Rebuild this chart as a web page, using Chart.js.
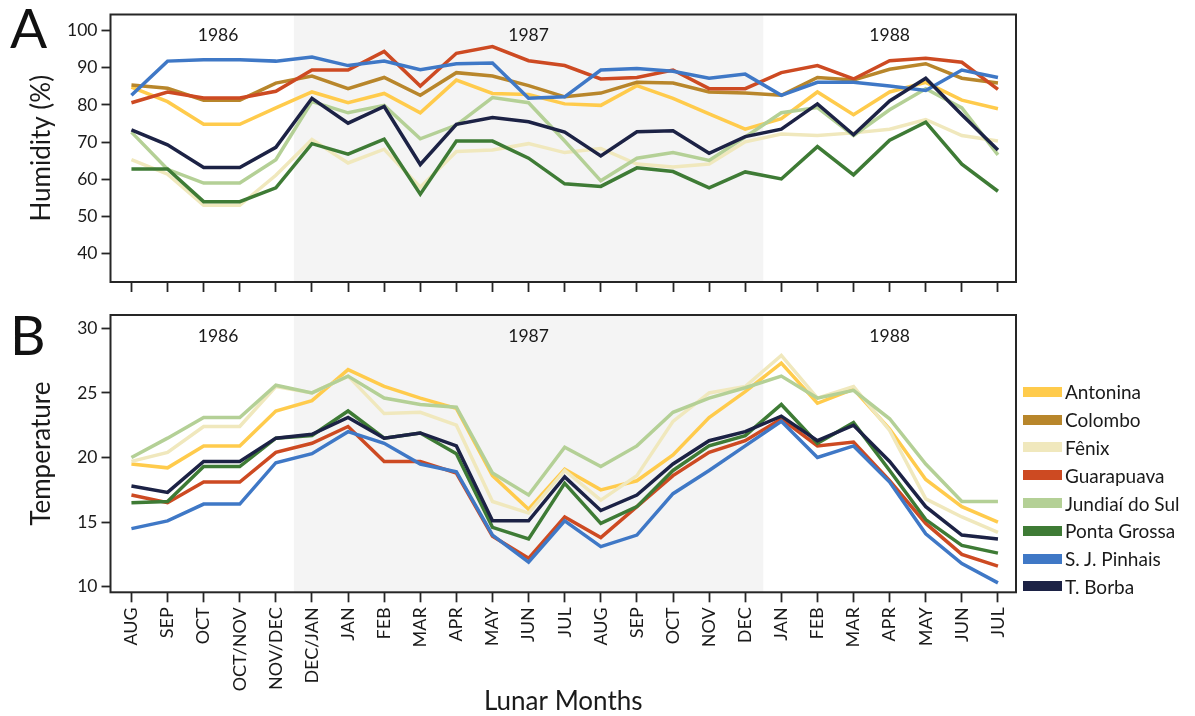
<!DOCTYPE html>
<html lang="pt">
<head>
<meta charset="utf-8">
<title>Humidity and temperature by lunar month, 1986–1988</title>
<script src="https://cdn.jsdelivr.net/npm/chart.js@4.4.1/dist/chart.umd.min.js"></script>
<style>
  html, body { margin: 0; padding: 0; background: #fff; }
  body { position: relative; width: 1195px; height: 716px; overflow: hidden;
         font-family: Lato, "Open Sans", sans-serif; color: #1a1a1a; }
  .panel { position: absolute; left: 0; width: 1195px; }
  #panelA { top: 0; height: 300px; }
  #panelB { top: 300px; height: 416px; }
  #legend { position: absolute; left: 1023px; top: 378px; }
  #legend .item { display: flex; align-items: center; height: 27.8px; font-size: 19px;
                  line-height: 1; white-space: nowrap; }
  #legend .swatch { width: 39px; height: 10px; margin-right: 3px; flex: none; }
</style>
</head>
<body>
<div class="panel" id="panelA"><canvas id="humidity" width="1195" height="300"></canvas></div>
<div class="panel" id="panelB"><canvas id="temperature" width="1195" height="416"></canvas></div>
<div id="legend"></div>

<script>
// Lunar months, Aug 1986 – Jul 1988
const months = ['AUG','SEP','OCT','OCT/NOV','NOV/DEC','DEC/JAN','JAN','FEB','MAR','APR','MAY','JUN',
                'JUL','AUG','SEP','OCT','NOV','DEC','JAN','FEB','MAR','APR','MAY','JUN','JUL'];
const stations = ['Antonina','Colombo','Fênix','Guarapuava','Jundiaí do Sul','Ponta Grossa','S. J. Pinhais','T. Borba'];
const years = ['1986','1987','1988'];
const humidityTicks = [40, 50, 60, 70, 80, 90, 100];
const temperatureTicks = [10, 15, 20, 25, 30];

// Relative humidity (%)
const humAntonina     = [84.8, 80.9, 74.8, 74.8, 79.2, 83.5, 80.6, 83.1, 77.9, 86.7, 83.1, 82.8, 80.3, 79.9, 85.2, 81.8, 77.6, 73.5, 76.3, 83.5, 77.4, 83.5, 86.1, 81.3, 79.0];
const humColombo      = [85.4, 84.5, 81.3, 81.3, 85.9, 87.8, 84.4, 87.4, 82.6, 88.7, 87.8, 85.2, 82.2, 83.2, 86.1, 85.9, 83.5, 83.2, 82.6, 87.4, 86.7, 89.6, 91.1, 87.2, 85.9];
const humFenix        = [65.3, 61.4, 53.0, 53.0, 61.1, 70.7, 64.4, 68.1, 57.9, 67.5, 67.9, 69.6, 67.2, 68.3, 64.1, 63.3, 64.1, 70.1, 72.2, 71.8, 72.5, 73.5, 76.1, 71.8, 70.3];
const humGuarapuava   = [80.6, 83.5, 81.9, 81.9, 83.7, 89.4, 89.4, 94.4, 85.1, 93.9, 95.7, 91.9, 90.6, 87.0, 87.4, 89.4, 84.4, 84.4, 88.7, 90.6, 87.0, 91.9, 92.6, 91.5, 84.2];
const humJundiai      = [72.7, 62.7, 59.0, 59.0, 65.3, 80.9, 77.9, 79.9, 70.9, 74.6, 82.0, 80.6, 70.3, 59.6, 65.7, 67.2, 65.1, 71.4, 77.9, 79.3, 71.8, 78.7, 84.4, 79.2, 66.6];
const humPontaGrossa  = [62.8, 62.8, 54.0, 54.0, 57.7, 69.6, 66.8, 70.8, 56.0, 70.3, 70.3, 65.7, 58.8, 58.1, 63.1, 62.1, 57.7, 62.0, 60.1, 68.8, 61.2, 70.5, 75.4, 64.1, 56.8];
const humSJPinhais    = [82.6, 91.8, 92.2, 92.2, 91.8, 92.9, 90.6, 91.8, 89.5, 91.1, 91.3, 81.8, 82.2, 89.4, 89.8, 89.1, 87.2, 88.3, 82.6, 86.1, 86.1, 85.1, 83.9, 89.4, 87.4];
const humTBorba       = [73.3, 69.3, 63.2, 63.2, 68.6, 81.8, 75.1, 79.6, 64.0, 74.8, 76.6, 75.5, 72.7, 66.3, 72.8, 73.1, 67.0, 71.5, 73.5, 80.3, 72.0, 81.1, 87.2, 77.4, 67.9];

// Mean temperature (°C); no temperature record for Colombo
const tempAntonina    = [19.5, 19.2, 20.9, 20.9, 23.6, 24.4, 26.8, 25.5, 24.6, 23.8, 18.6, 16.0, 19.1, 17.5, 18.2, 20.2, 23.1, 25.1, 27.3, 24.2, 25.3, 22.2, 18.3, 16.2, 15.0];
const tempFenix       = [19.7, 20.4, 22.4, 22.4, 25.5, 25.0, 26.3, 23.4, 23.5, 22.5, 16.6, 15.7, 19.0, 16.7, 18.6, 22.8, 25.0, 25.5, 27.9, 24.6, 25.5, 22.1, 16.8, 15.4, 14.2];
const tempGuarapuava  = [17.1, 16.5, 18.1, 18.1, 20.4, 21.1, 22.4, 19.7, 19.7, 18.8, 13.9, 12.2, 15.4, 13.8, 16.2, 18.6, 20.4, 21.3, 23.0, 20.9, 21.2, 18.2, 14.9, 12.5, 11.6];
const tempJundiai     = [20.0, 21.5, 23.1, 23.1, 25.6, 25.0, 26.3, 24.6, 24.1, 23.9, 18.8, 17.1, 20.8, 19.3, 20.9, 23.5, 24.6, 25.4, 26.3, 24.6, 25.2, 23.0, 19.5, 16.6, 16.6];
const tempPontaGrossa = [16.5, 16.6, 19.3, 19.3, 21.5, 21.7, 23.6, 21.5, 21.9, 20.3, 14.6, 13.7, 18.0, 14.9, 16.2, 19.0, 20.9, 21.7, 24.1, 21.1, 22.7, 19.0, 15.2, 13.2, 12.6];
const tempSJPinhais   = [14.5, 15.1, 16.4, 16.4, 19.6, 20.3, 22.0, 21.1, 19.5, 18.9, 14.0, 11.9, 15.1, 13.1, 14.0, 17.2, 19.0, 20.9, 22.8, 20.0, 20.9, 18.1, 14.1, 11.8, 10.3];
const tempTBorba      = [17.8, 17.3, 19.7, 19.7, 21.5, 21.8, 23.1, 21.5, 21.9, 20.9, 15.1, 15.1, 18.5, 15.9, 17.1, 19.5, 21.3, 22.0, 23.2, 21.3, 22.5, 19.7, 16.2, 14.0, 13.7];

const humidityByStation = {
  'Antonina': humAntonina, 'Colombo': humColombo, 'Fênix': humFenix, 'Guarapuava': humGuarapuava,
  'Jundiaí do Sul': humJundiai, 'Ponta Grossa': humPontaGrossa, 'S. J. Pinhais': humSJPinhais, 'T. Borba': humTBorba
};
const temperatureByStation = {
  'Antonina': tempAntonina, 'Fênix': tempFenix, 'Guarapuava': tempGuarapuava,
  'Jundiaí do Sul': tempJundiai, 'Ponta Grossa': tempPontaGrossa, 'S. J. Pinhais': tempSJPinhais, 'T. Borba': tempTBorba
};

const stationColor = {
  'Antonina': '#ffcb4c', 'Colombo': '#b8862b', 'Fênix': '#f0e8bd', 'Guarapuava': '#cd4a22',
  'Jundiaí do Sul': '#b4d096', 'Ponta Grossa': '#3e7b35', 'S. J. Pinhais': '#3f78c6', 'T. Borba': '#1c2245'
};

const FONT = 'Lato, "Open Sans", sans-serif';
const INK = '#1a1a1a';
const FRAME = '#262626';

// Shaded 1987 band, year captions, panel frame and panel letter
const panelDecor = {
  id: 'panelDecor',
  beforeDraw(chart, _args, opts) {
    const { ctx, chartArea: a, scales: { x } } = chart;
    ctx.save();
    const x0 = x.getPixelForValue(opts.shadeFrom);
    const x1 = x.getPixelForValue(opts.shadeTo);
    ctx.fillStyle = '#f4f4f4';
    ctx.fillRect(x0, a.top, x1 - x0, a.bottom - a.top);
    ctx.fillStyle = INK;
    ctx.font = '17.5px ' + FONT;
    ctx.textAlign = 'center';
    ctx.textBaseline = 'middle';
    years.forEach((t, i) => ctx.fillText(t, x.getPixelForValue(opts.yearAt[i]), a.top + 21));
    ctx.restore();
  },
  afterDraw(chart, _args, opts) {
    const { ctx, chartArea: a } = chart;
    ctx.save();
    ctx.strokeStyle = FRAME;
    ctx.lineWidth = 2;
    ctx.strokeRect(a.left, a.top, a.right - a.left, a.bottom - a.top);
    ctx.fillStyle = '#111';
    ctx.font = '55px ' + FONT;
    ctx.textAlign = 'left';
    ctx.textBaseline = 'alphabetic';
    ctx.fillText(opts.letter, 10, opts.letterBaseline);
    ctx.restore();
  }
};

function lineDatasets(byStation) {
  return stations
    .map((name, i) => ({ name, i }))
    .filter(s => byStation[s.name])
    .map(s => ({
      label: s.name,
      data: byStation[s.name].map((v, k) => ({ x: k, y: v })),
      borderColor: stationColor[s.name],
      backgroundColor: stationColor[s.name],
      borderWidth: 3.5,
      pointRadius: 0,
      tension: 0,
      fill: false,
      order: stations.length - s.i
    }));
}

function xScale(showLabels, height) {
  return {
    type: 'linear', min: -0.58, max: 24.5, bounds: 'data',
    afterBuildTicks: s => { s.ticks = months.map((_, i) => ({ value: i })); },
    afterFit: s => { s.height = height; },
    grid: { drawOnChartArea: false, drawTicks: true, tickLength: 10, tickColor: FRAME, tickWidth: 1.8 },
    border: { display: false },
    ticks: {
      display: showLabels, autoSkip: false, maxRotation: 90, minRotation: 90, padding: 5,
      color: INK, font: { family: FONT, size: 18 },
      callback: v => months[v]
    },
    title: showLabels
      ? { display: true, text: 'Lunar Months', color: INK,
          font: { family: FONT, size: 26, lineHeight: 1 }, padding: { top: 0, bottom: 1 } }
      : { display: false }
  };
}

function yScale(min, max, ticks, title) {
  return {
    min, max,
    afterBuildTicks: s => { s.ticks = ticks.map(v => ({ value: v })); },
    afterFit: s => { s.width = 110.5; },
    grid: { drawOnChartArea: false, drawTicks: true, tickLength: 9, tickColor: FRAME, tickWidth: 1.8 },
    border: { display: false },
    ticks: { color: INK, font: { family: FONT, size: 17.5 }, padding: 4 },
    title: { display: true, text: title, color: INK,
             font: { family: FONT, size: 26, lineHeight: 1 }, padding: { top: 28.5, bottom: 0 } }
  };
}

function baseOptions(padTop, letter, letterBaseline) {
  return {
    responsive: false,
    animation: false,
    events: [],
    layout: { padding: { left: 0, right: 179, top: padTop, bottom: 0 } },
    plugins: {
      legend: { display: false },
      tooltip: { enabled: false },
      panelDecor: { shadeFrom: 4.5, shadeTo: 17.5, yearAt: [2.4, 11, 21], letter, letterBaseline }
    }
  };
}

function buildLegend() {
  const box = document.getElementById('legend');
  stations.forEach(name => {
    const item = document.createElement('div');
    item.className = 'item';
    const sw = document.createElement('span');
    sw.className = 'swatch';
    sw.style.background = stationColor[name];
    const txt = document.createElement('span');
    txt.textContent = name;
    item.appendChild(sw);
    item.appendChild(txt);
    box.appendChild(item);
  });
}

function draw() {
  const optsA = baseOptions(5, 'A', 48);
  optsA.scales = { x: xScale(false, 18), y: yScale(32.39, 104.34, humidityTicks, 'Humidity (%)') };
  new Chart(document.getElementById('humidity'), {
    type: 'line',
    data: { datasets: lineDatasets(humidityByStation) },
    options: optsA,
    plugins: [panelDecor]
  });

  const optsB = baseOptions(15, 'B', 55);
  optsB.scales = { x: xScale(true, 123.7), y: yScale(9.57, 31.03, temperatureTicks, 'Temperature') };
  new Chart(document.getElementById('temperature'), {
    type: 'line',
    data: { datasets: lineDatasets(temperatureByStation) },
    options: optsB,
    plugins: [panelDecor]
  });

  buildLegend();
}

const fontsReady = document.fonts
  ? Promise.all(['17px Lato', '26px Lato', '55px Lato'].map(f => document.fonts.load(f))).catch(() => {})
  : Promise.resolve();
fontsReady.then(draw);
</script>
</body>
</html>
